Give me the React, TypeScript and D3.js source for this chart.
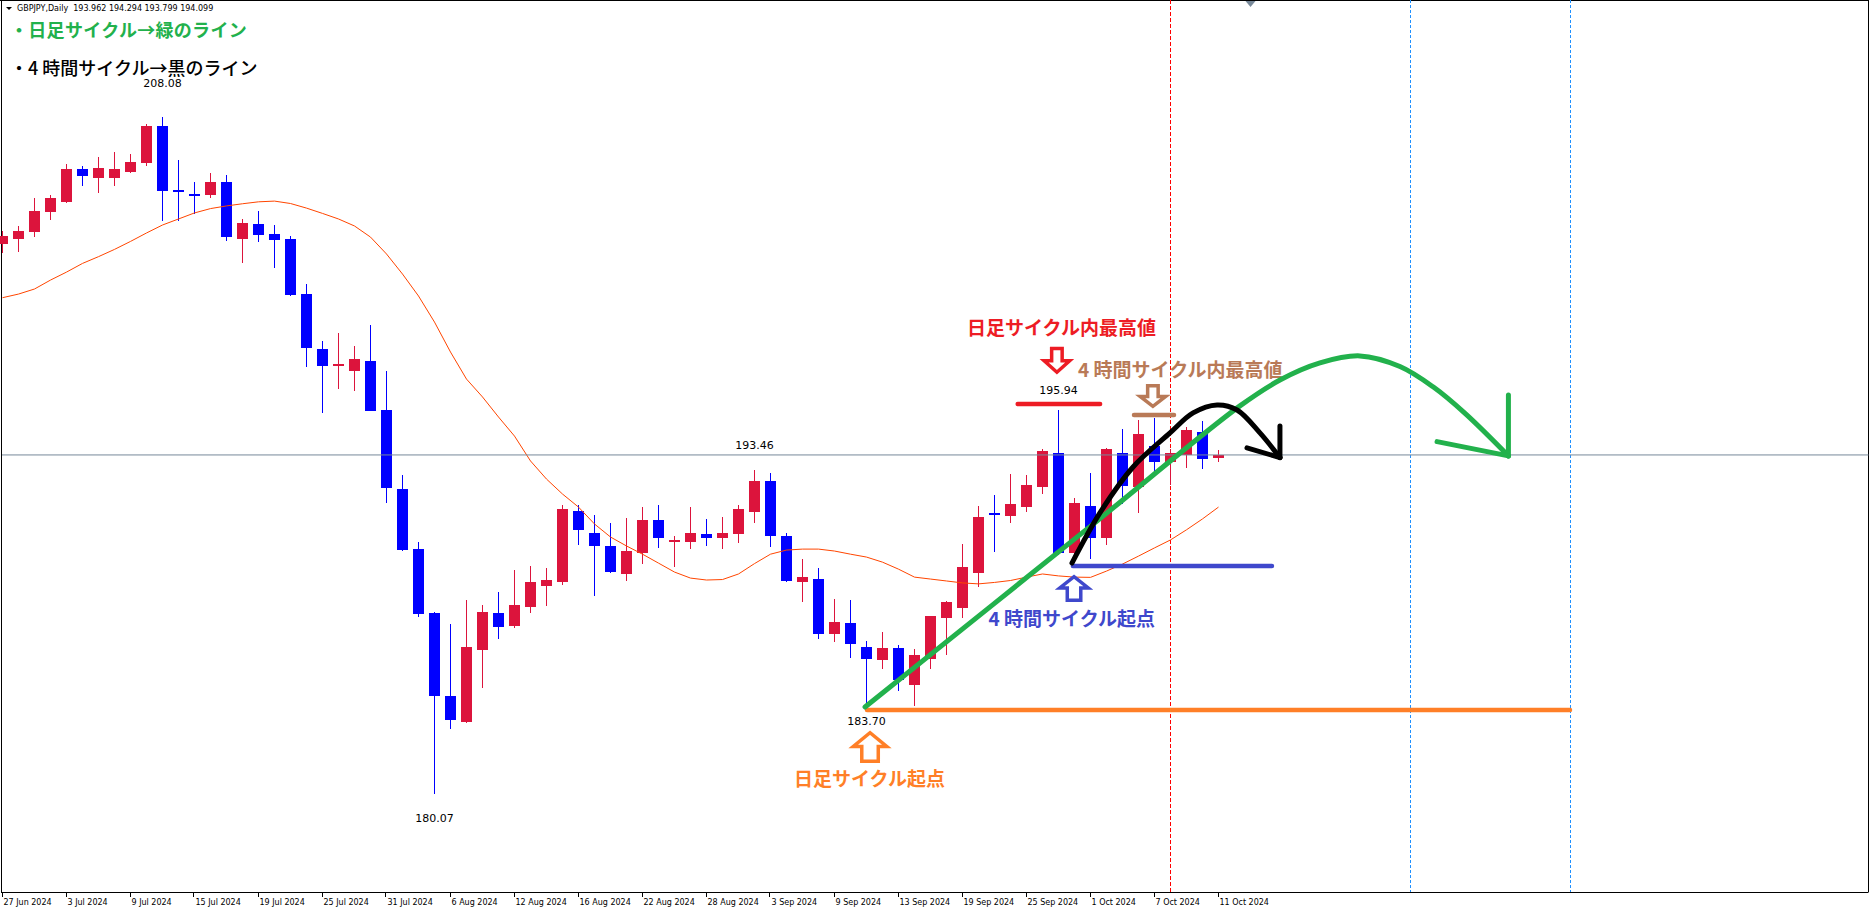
import { curveCatmullRom, line, scaleLinear } from 'd3'

// GBPJPY daily, 27 Jun 2024 .. 11 Oct 2024 (77 bars)
const opens = [
  202.83, 203.05, 203.34, 204.17, 204.59, 205.94, 205.58, 205.58, 205.83, 206.2,
  207.72, 205.06, 204.89, 204.88, 205.4, 203.05, 203.66, 203.25, 203.04, 200.76,
  198.49, 197.77, 197.58, 197.99, 195.97, 192.69, 190.21, 187.55, 184.12, 183.05,
  186.04, 187.55, 187.03, 187.81, 188.68, 188.85, 191.78, 190.87, 190.34, 189.18,
  190.05, 191.4, 190.51, 190.51, 190.83, 190.67, 190.84, 191.75, 193.02, 190.74,
  188.85, 188.96, 186.7, 187.14, 186.15, 185.62, 186.1, 184.59, 185.66, 187.36,
  187.77, 189.22, 191.7, 191.58, 191.96, 192.78, 194.19, 190.05, 191.99, 190.67,
  194.18, 192.78, 194.47, 193.82, 194.1, 195.06, 193.962,
]
const highs = [
  203.37, 203.58, 204.74, 204.86, 206.15, 206.06, 206.44, 206.64, 206.56, 207.8,
  208.08, 206.31, 205.4, 205.77, 205.69, 203.87, 204.2, 203.62, 203.16, 201.18,
  198.82, 199.15, 198.6, 199.47, 197.58, 193.27, 190.49, 187.59, 187.11, 188.1,
  187.88, 188.42, 189.34, 189.51, 189.42, 192.02, 192.02, 191.62, 191.28, 191.5,
  191.93, 192.03, 190.74, 191.94, 191.45, 191.53, 192.03, 193.46, 193.35, 190.87,
  189.79, 189.42, 188.13, 188.09, 186.4, 186.77, 186.24, 186.06, 187.45, 188.06,
  190.42, 191.99, 192.44, 193.31, 193.27, 194.34, 195.94, 192.32, 193.35, 194.39,
  195.17, 195.55, 195.63, 194.35, 195.27, 195.52, 194.294,
]
const lows = [
  202.47, 202.51, 203.14, 203.83, 204.55, 205.25, 204.96, 205.25, 205.79, 206.08,
  203.8, 203.8, 204.07, 204.75, 202.97, 202.05, 202.93, 201.85, 200.7, 197.75,
  195.85, 196.82, 196.75, 195.9, 192.12, 190.12, 187.37, 180.07, 182.76, 182.98,
  184.46, 186.46, 186.95, 187.57, 187.85, 188.71, 190.35, 188.25, 189.21, 188.9,
  189.6, 190.26, 189.47, 190.22, 190.33, 190.22, 190.46, 191.29, 190.3, 188.85,
  188.02, 186.49, 186.37, 185.7, 183.7, 185.25, 184.34, 183.71, 185.25, 185.8,
  187.36, 188.64, 190.09, 191.29, 191.75, 192.49, 189.97, 189.64, 189.8, 190.38,
  192.08, 191.71, 193.32, 192.87, 193.57, 193.53, 193.799,
]
const closes = [
  203.16, 203.37, 204.2, 204.74, 205.94, 205.66, 205.98, 205.94, 206.23, 207.72,
  205.04, 205.02, 204.82, 205.4, 203.14, 203.7, 203.22, 203.01, 200.74, 198.54,
  197.79, 197.86, 198.08, 195.92, 192.73, 190.16, 187.53, 184.13, 183.13, 186.15,
  187.6, 186.98, 187.88, 188.84, 188.92, 191.86, 191.0, 190.31, 189.26, 190.12,
  191.4, 190.67, 190.59, 190.87, 190.67, 190.87, 191.86, 193.02, 190.76, 188.89,
  189.06, 186.7, 187.18, 186.28, 185.66, 186.1, 184.79, 185.81, 187.43, 188.02,
  189.46, 191.54, 191.63, 192.07, 192.85, 194.26, 190.05, 192.11, 190.67, 194.34,
  192.82, 194.97, 193.82, 194.19, 195.14, 193.95, 194.099,
]
// moving average as drawn on the chart
const maValues = [
  200.61, 200.76, 200.97, 201.34, 201.67, 202.03, 202.31, 202.61, 202.94, 203.29,
  203.62, 203.87, 204.12, 204.3, 204.41, 204.5, 204.58, 204.61, 204.51, 204.32,
  204.1, 203.87, 203.58, 203.12, 202.42, 201.59, 200.68, 199.6, 198.36, 197.24,
  196.5, 195.67, 194.88, 193.85, 193.1, 192.48, 191.94, 191.24, 190.7, 190.33,
  189.99, 189.62, 189.25, 189.0, 188.92, 188.94, 189.17, 189.6, 189.99, 190.16,
  190.2, 190.2, 190.12, 189.99, 189.87, 189.66, 189.37, 189.04, 188.96, 188.88,
  188.8, 188.76, 188.82, 188.9, 189.04, 189.17, 189.09, 189.04, 189.03, 189.29,
  189.58, 189.91, 190.25, 190.58, 191.0, 191.45, 191.94,
]

const tickBars = [0, 4, 8, 12, 16, 20, 24, 28, 32, 36, 40, 44, 48, 52, 56, 60, 64, 68, 72, 76]
const tickLabels = [
  '27 Jun 2024', '3 Jul 2024', '9 Jul 2024', '15 Jul 2024', '19 Jul 2024',
  '25 Jul 2024', '31 Jul 2024', '6 Aug 2024', '12 Aug 2024', '16 Aug 2024',
  '22 Aug 2024', '28 Aug 2024', '3 Sep 2024', '9 Sep 2024', '13 Sep 2024',
  '19 Sep 2024', '25 Sep 2024', '1 Oct 2024', '7 Oct 2024', '11 Oct 2024',
]

const bidPrice = 194.099
const extremeBars = [10, 27, 47, 54, 66]
const extremePrices = [208.08, 180.07, 193.46, 183.7, 195.94]
const extremeOffsets = [-30, 28, -21, 19, -16]

const redVLineBar = 73
const blueVLineBars = [88, 98]
const shiftBar = 78

// hand drawn cycle lines
const greenBars = [53.91, 67.97, 77.34, 79.84, 82.34, 84.84, 87.34, 89.41, 91.41, 94.12]
const greenPrices = [183.66, 191.13, 196.13, 197.2, 197.91, 198.2, 197.76, 196.92, 195.82, 194.06]
const greenHeadBars = [94.12, 89.66]
const greenHeadPrices = [196.58, 194.65]

const blackBars = [66.84, 68.59, 70.66, 72.97, 74.41, 75.91, 77.16, 78.59, 79.84]
const blackPrices = [189.62, 191.7, 193.6, 195.01, 195.84, 196.17, 195.96, 195.01, 193.99]
const blackHeadBars = [79.84, 77.78]
const blackHeadPrices = [195.3, 194.39]

const RED = '#ED1C24'
const BROWN = '#B97A57'
const BLUE = '#3F48CC'
const ORANGE = '#FF7F27'
const GREEN = '#22B14C'

const hLines = [
  { from: 63.45, to: 68.6, price: 196.21, color: RED },
  { from: 70.72, to: 73.22, price: 195.75, color: BROWN },
  { from: 66.9, to: 79.34, price: 189.5, color: BLUE },
  { from: 54.03, to: 97.97, price: 183.54, color: ORANGE },
]

const arrows = [
  { bar: 65.9, tail: 198.58, tip: 197.45, w: 29, stem: 14, color: RED },
  { bar: 71.9, tail: 197.04, tip: 196.04, w: 29, stem: 14, color: BROWN },
  { bar: 66.97, tail: 188.01, tip: 189.13, w: 32, stem: 17, color: BLUE },
  { bar: 54.22, tail: 181.34, tip: 182.67, w: 37, stem: 20, color: ORANGE },
]

const notes = [
  { text: '日足サイクル内最高値', bar: 66.19, price: 199.07, anchor: 'middle', color: RED },
  { text: '4 時間サイクル内最高値', bar: 67.22, price: 197.33, anchor: 'start', color: BROWN },
  { text: '4 時間サイクル起点', bar: 66.83, price: 187.02, anchor: 'middle', color: BLUE },
  { text: '日足サイクル起点', bar: 54.19, price: 180.39, anchor: 'middle', color: ORANGE },
]

const W = 1870
const H = 911
const axisY = 892
const rightEdge = 1868.5
const jp = '"Noto Sans CJK JP", "Noto Sans CJK SC", sans-serif'
const small = '"DejaVu Sans", Tahoma, sans-serif'

function blockArrow(cx: number, yTail: number, yTip: number, w: number, stem: number, sw: number) {
  const dir = yTip > yTail ? 1 : -1
  const t = yTail + dir * sw / 2
  const p = yTip - dir * sw / 2
  const headBase = t + (p - t) * 0.52
  const hw = w / 2 - sw / 2
  const hs = stem / 2 - sw / 2
  return [
    `M${cx - hs},${t}`,
    `L${cx + hs},${t}`,
    `L${cx + hs},${headBase}`,
    `L${cx + hw},${headBase}`,
    `L${cx},${p}`,
    `L${cx - hw},${headBase}`,
    `L${cx - hs},${headBase}`,
    'Z',
  ].join(' ')
}

export default function App() {
  const x = scaleLinear().domain([0, 100]).range([2.5, 1602.5])
  const y = scaleLinear().domain([176.043, 212.937]).range([891, 0])

  const maLine = line<number>()
    .x((_, i) => x(i))
    .y((d) => y(d))

  const curve = line<[number, number]>()
    .x((d) => x(d[0]))
    .y((d) => y(d[1]))
    .curve(curveCatmullRom.alpha(0.5))

  const greenPts = greenBars.map((b, i) => [b, greenPrices[i]] as [number, number])
  const blackPts = blackBars.map((b, i) => [b, blackPrices[i]] as [number, number])
  const greenTip = greenPts[greenPts.length - 1]
  const blackTip = blackPts[blackPts.length - 1]

  return (
    <svg
      width={W}
      height={H}
      style={{ position: 'absolute', left: 0, top: 0, background: '#fff' }}
    >
      {/* frame */}
      <line x1={0} x2={rightEdge} y1={0.5} y2={0.5} stroke="#000" />
      <line x1={1.5} x2={1.5} y1={0} y2={axisY} stroke="#000" />
      <line x1={rightEdge} x2={rightEdge} y1={0} y2={axisY} stroke="#000" />

      {/* vertical lines */}
      <line
        x1={x(redVLineBar)}
        x2={x(redVLineBar)}
        y1={0}
        y2={axisY}
        stroke="#FF0000"
        strokeDasharray="4,2"
      />
      {blueVLineBars.map((b) => (
        <line
          key={`v-${b}`}
          x1={x(b)}
          x2={x(b)}
          y1={0}
          y2={axisY}
          stroke="#1E90FF"
          strokeDasharray="3,2"
        />
      ))}

      {/* candles */}
      <g shapeRendering="crispEdges">
        {opens.map((o, i) => {
          const c = closes[i]
          const up = c >= o
          const color = up ? '#DC143C' : '#0000FF'
          const top = y(Math.max(o, c))
          const bottom = y(Math.min(o, c))
          const cx = x(i)
          return (
            <g key={`c-${i}`}>
              <line x1={cx} x2={cx} y1={y(highs[i])} y2={y(lows[i])} stroke={color} />
              <rect
                x={cx - 5.5}
                y={top}
                width={11}
                height={Math.max(bottom - top, 2)}
                fill={color}
              />
            </g>
          )
        })}
      </g>

      <path d={maLine(maValues) ?? ''} fill="none" stroke="#FF4500" strokeWidth={1} />

      {/* bid line */}
      <line x1={2} x2={rightEdge} y1={y(bidPrice)} y2={y(bidPrice)} stroke="#778899" />

      {/* high / low labels */}
      {extremeBars.map((b, k) => (
        <text
          key={`ext-${b}`}
          x={x(b)}
          y={y(extremePrices[k]) + extremeOffsets[k]}
          textAnchor="middle"
          fontFamily={small}
          fontSize={11}
          fill="#000"
        >
          {extremePrices[k].toFixed(2)}
        </text>
      ))}

      {/* annotation lines */}
      {hLines.map((h, k) => (
        <line
          key={`h-${k}`}
          x1={x(h.from)}
          x2={x(h.to)}
          y1={y(h.price)}
          y2={y(h.price)}
          stroke={h.color}
          strokeWidth={4.5}
          strokeLinecap="round"
        />
      ))}

      {arrows.map((a, k) => (
        <path
          key={`a-${k}`}
          d={blockArrow(x(a.bar), y(a.tail), y(a.tip), a.w, a.stem, 3.5)}
          fill="#fff"
          stroke={a.color}
          strokeWidth={3.5}
        />
      ))}

      {notes.map((n, k) => (
        <text
          key={`n-${k}`}
          x={x(n.bar)}
          y={y(n.price)}
          textAnchor={n.anchor as 'start' | 'middle'}
          fontFamily={jp}
          fontWeight={700}
          fontSize={19}
          fill={n.color}
          style={{ whiteSpace: 'pre' }}
        >
          {n.text}
        </text>
      ))}

      {/* cycle curves */}
      <g fill="none" strokeWidth={5} strokeLinecap="round" strokeLinejoin="round">
        <path d={curve(greenPts) ?? ''} stroke={GREEN} />
        {greenHeadBars.map((b, k) => (
          <line
            key={`gh-${k}`}
            x1={x(b)}
            y1={y(greenHeadPrices[k])}
            x2={x(greenTip[0])}
            y2={y(greenTip[1])}
            stroke={GREEN}
          />
        ))}
        <path d={curve(blackPts) ?? ''} stroke="#000" />
        {blackHeadBars.map((b, k) => (
          <line
            key={`bh-${k}`}
            x1={x(b)}
            y1={y(blackHeadPrices[k])}
            x2={x(blackTip[0])}
            y2={y(blackTip[1])}
            stroke="#000"
          />
        ))}
      </g>

      {/* chart shift marker */}
      <path
        d={`M${x(shiftBar) - 5},1 L${x(shiftBar) + 5},1 L${x(shiftBar)},7 Z`}
        fill="#778899"
      />

      {/* x axis */}
      <line x1={1} x2={rightEdge} y1={axisY + 0.5} y2={axisY + 0.5} stroke="#000" />
      {tickBars.map((b, k) => (
        <g key={`t-${b}`}>
          <line
            x1={Math.round(x(b)) - 0.5}
            x2={Math.round(x(b)) - 0.5}
            y1={axisY}
            y2={axisY + 5}
            stroke="#000"
          />
          <text x={x(b) + 1} y={904.5} fontFamily={small} fontSize={8} fill="#000">
            {tickLabels[k]}
          </text>
        </g>
      ))}

      {/* header */}
      <path d="M6,7 L12,7 L9,10 Z" fill="#000" />
      <text x={17} y={11} fontFamily={small} fontSize={8} fill="#000" style={{ whiteSpace: 'pre' }}>
        {'GBPJPY,Daily  193.962 194.294 193.799 194.099'}
      </text>

      {/* legend */}
      <text
        x={10}
        y={37}
        fontFamily={jp}
        fontWeight={700}
        fontSize={18}
        fill={GREEN}
        letterSpacing={0.3}
      >
        ・日足サイクル→緑のライン
      </text>
      <text
        x={10}
        y={74.5}
        fontFamily={jp}
        fontWeight={500}
        fontSize={18}
        fill="#000"
        style={{ whiteSpace: 'pre' }}
      >
        {'・4 時間サイクル→黒のライン'}
      </text>
    </svg>
  )
}
